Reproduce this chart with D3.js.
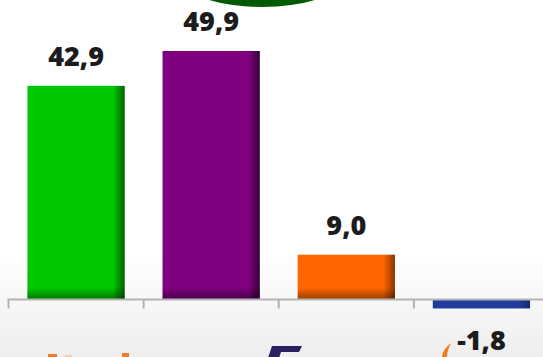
<!DOCTYPE html>
<html>
<head>
<meta charset="utf-8">
<script src="https://cdn.jsdelivr.net/npm/d3@7/dist/d3.min.js"></script>
<style>
  html, body { margin: 0; padding: 0; background: #ffffff; }
  svg { display: block; }
  .val { font-family: "Open Sans", "DejaVu Sans", sans-serif; font-weight: 800; font-size: 27px; fill: #1c1c1c; }
</style>
</head>
<body>
<script>
// Results by party (percentage points)
const categories = ["P1", "P2", "P3", "P4"];
const values = [42.9, 49.9, 9.0, -1.8];
const fills = ["#00c800", "#800080", "#ff6600", "#1f3b9c"];
const shades = ["#005f00", "#380038", "#8a3500", "#15286e"];

const W = 543, H = 357;
const svg = d3.select("body").append("svg").attr("width", W).attr("height", H);
const defs = svg.append("defs");

// Soft grey floor behind the lower part of the chart
const bg = defs.append("linearGradient").attr("id", "floor")
  .attr("x1", 0).attr("y1", 0).attr("x2", 0).attr("y2", 1);
bg.append("stop").attr("offset", "0%").attr("stop-color", "#ffffff");
bg.append("stop").attr("offset", "100%").attr("stop-color", "#eeeeee");
svg.append("rect").attr("x", 0).attr("y", 255).attr("width", W).attr("height", H - 255)
  .attr("fill", "url(#floor)");

// Green badge peeking in at the top
svg.append("ellipse").attr("cx", 262).attr("cy", -18).attr("rx", 76).attr("ry", 25)
  .attr("fill", "#005a00");

const x = d3.scaleBand().domain(categories).range([8.5, 549])
  .paddingInner(0.28).paddingOuter(0.14);
const y = d3.scaleLinear().domain([0, 49.9]).range([299.5, 51]);

const fmt = d3.formatLocale({ decimal: ",", thousands: ".", grouping: [3], currency: ["", ""], minus: "-" }).format(".1f");

// Per-bar gradients: darker right edge and darker base
categories.forEach((c, i) => {
  const h = defs.append("linearGradient").attr("id", "h" + i)
    .attr("x1", 0).attr("y1", 0).attr("x2", 1).attr("y2", 0);
  h.append("stop").attr("offset", "0%").attr("stop-color", fills[i]);
  h.append("stop").attr("offset", "88%").attr("stop-color", fills[i]);
  h.append("stop").attr("offset", "100%").attr("stop-color", shades[i]);
});
const v = defs.append("linearGradient").attr("id", "vshade")
  .attr("x1", 0).attr("y1", 0).attr("x2", 0).attr("y2", 1);
v.append("stop").attr("offset", "0%").attr("stop-color", "#000").attr("stop-opacity", 0);
v.append("stop").attr("offset", "100%").attr("stop-color", "#000").attr("stop-opacity", 0.4);

const bars = svg.append("g");
categories.forEach((c, i) => {
  const val = values[i];
  const top = y(Math.max(0, val)), bot = y(Math.min(0, val));
  bars.append("rect").attr("x", x(c)).attr("y", top)
    .attr("width", x.bandwidth()).attr("height", bot - top)
    .attr("fill", "url(#h" + i + ")");
  if (val > 0) {
    const sh = Math.min(12, (bot - top) * 0.35);
    bars.append("rect").attr("x", x(c)).attr("y", bot - sh)
      .attr("width", x.bandwidth()).attr("height", sh)
      .attr("fill", "url(#vshade)");
  }
});

// Category axis along zero, ticks on band boundaries
const ag = svg.append("g").attr("transform", `translate(0,${y(0)})`);
ag.append("path").attr("fill", "none").attr("stroke", "#b3b3b3").attr("stroke-width", 2)
  .attr("d", `M${x.range()[0]},9V0H${x.range()[1]}V9`);
const bounds = categories.map(c => x(c) - x.step() * x.paddingInner() / 2);
ag.selectAll(".bnd").data(bounds.slice(1)).enter().append("line")
  .attr("x1", d => d).attr("x2", d => d).attr("y1", 0).attr("y2", 9)
  .attr("stroke", "#b3b3b3").attr("stroke-width", 2);

// Value labels
svg.append("g").selectAll("text").data(categories).enter().append("text")
  .attr("class", "val")
  .attr("text-anchor", "middle")
  .attr("x", c => x(c) + x.bandwidth() / 2)
  .attr("y", (c, i) => values[i] >= 0 ? y(values[i]) - 20 : y(values[i]) + 42)
  .text((c, i) => fmt(values[i]));

// Sponsor marks cut off along the bottom edge
const logos = svg.append("g");
logos.append("rect").attr("x", 48).attr("y", 354).attr("width", 9).attr("height", 5).attr("fill", "#f07d2a");
logos.append("rect").attr("x", 65).attr("y", 355).attr("width", 7).attr("height", 4).attr("fill", "#f8c9a3");
logos.append("rect").attr("x", 122).attr("y", 353).attr("width", 7).attr("height", 6).attr("fill", "#f07d2a");
logos.append("path").attr("d", "M272,346 L302,346 L299,352 L281,352 L279,358 L268,358 Z").attr("fill", "#2b2060");
logos.append("path").attr("d", "M451,343 C446,347 442,352 442,358 L447,358 C447,352 449,347 451,343 Z").attr("fill", "#f07d2a");
</script>
</body>
</html>
